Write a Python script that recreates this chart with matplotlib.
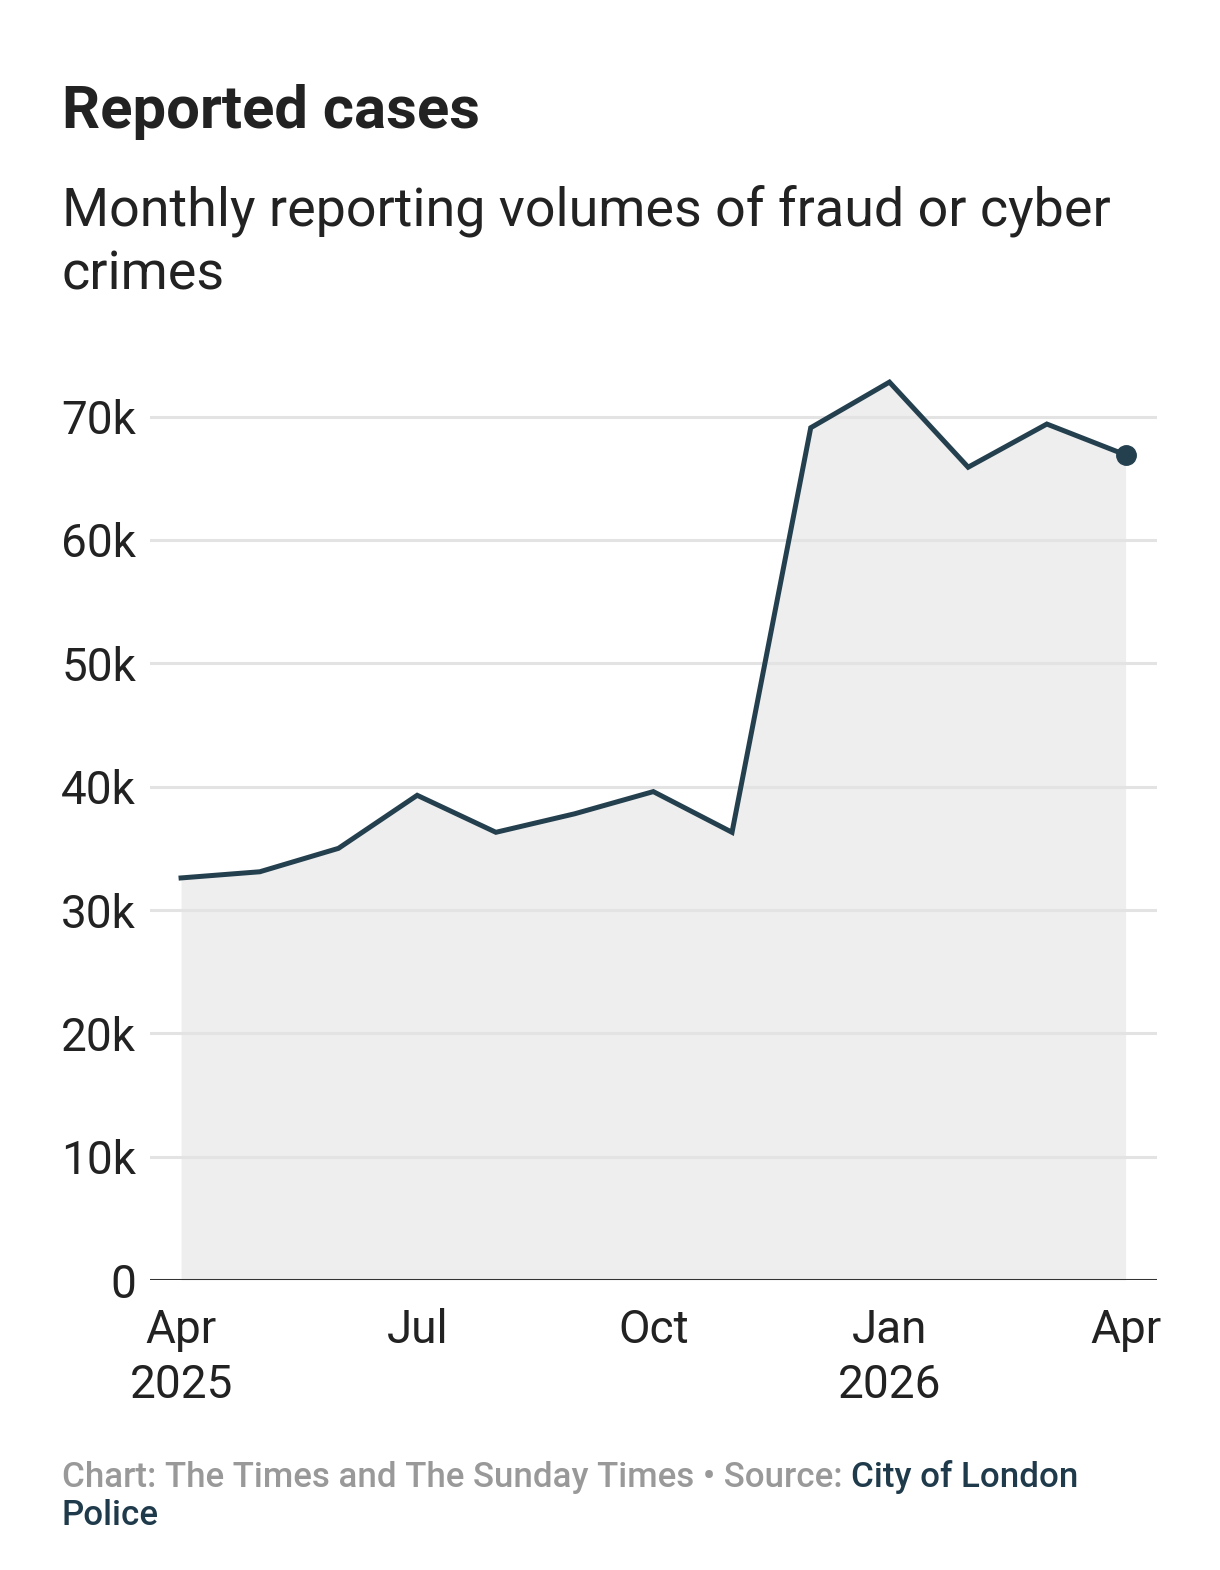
import matplotlib
matplotlib.use("Agg")
import matplotlib.pyplot as plt
import numpy as np

# data (monthly reports, Apr 2025 -> Apr 2026)
months = ["Apr 2025", "May", "Jun", "Jul", "Aug", "Sep", "Oct", "Nov", "Dec",
          "Jan 2026", "Feb", "Mar", "Apr 2026"]
cases = [32600, 33100, 35000, 39300, 36300, 37800, 39600, 36300, 69100,
         72800, 65900, 69400, 66900]
tick_pos = [0, 3, 6, 9, 12]
tick_labels = ["Apr\n2025", "Jul", "Oct", "Jan\n2026", "Apr"]
y_ticks = [0, 10000, 20000, 30000, 40000, 50000, 60000, 70000]
y_labels = ["0", "10k", "20k", "30k", "40k", "50k", "60k", "70k"]

plt.rcParams['font.family'] = ['Roboto', 'DejaVu Sans']

line_col = "#24404f"
text_col = "#222222"

fig = plt.figure(figsize=(12.2, 15.7), dpi=100)
ax = fig.add_axes([0.123, 0.1847, 0.8254, 0.5892])

x = np.arange(len(cases))
ax.fill_between(x, 0, cases, color="#eeeeee", lw=0, zorder=1)
for t in y_ticks[1:]:
    ax.axhline(t, color="#e3e3e3", lw=2.2, zorder=2)
ax.axhline(0, color="#333333", lw=2.2, zorder=4)
ax.plot(x, cases, color=line_col, lw=3.6, solid_joinstyle="miter", zorder=3, clip_on=False)
ax.plot(x[-1], cases[-1], "o", color=line_col, ms=14, zorder=5, clip_on=False)

ax.set_xlim(-0.394, 12.40)
ax.set_ylim(0, 75000)
for s in ax.spines.values():
    s.set_visible(False)
ax.set_yticks(y_ticks)
ax.set_yticklabels(y_labels, fontsize=33, color=text_col)
ax.set_xticks(tick_pos)
ax.set_xticklabels(tick_labels, fontsize=33, color=text_col, linespacing=1.32)
ax.tick_params(axis="y", length=0, pad=10)
ax.tick_params(axis="x", length=0, pad=20)

fig.text(62/1220, 1 - 128/1570, "Reported cases", fontsize=43, fontweight="bold",
         color=text_col, va="baseline")
# baseline anchor of a multi-line text is its last line
fig.text(62/1220, 1 - 290/1570, "Monthly reporting volumes of fraud or cyber\ncrimes",
         fontsize=38.8, color=text_col, va="baseline", linespacing=1.33)

# footer: grey credit followed by dark source name
grey = fig.text(62/1220, 1 - 1487/1570, "Chart: The Times and The Sunday Times \u2022 Source: ",
                fontsize=25.1, color="#999999", fontweight="medium", va="baseline")
fig.canvas.draw()
bb = grey.get_window_extent(fig.canvas.get_renderer())
fig.text(bb.x1 / fig.bbox.width, 1 - 1487/1570, "City of London",
         fontsize=25.1, color="#1f3b4b", fontweight="medium", va="baseline")
fig.text(62/1220, 1 - 1525/1570, "Police",
         fontsize=25.1, color="#1f3b4b", fontweight="medium", va="baseline")

fig.savefig("out.png", dpi=100, facecolor="white")
